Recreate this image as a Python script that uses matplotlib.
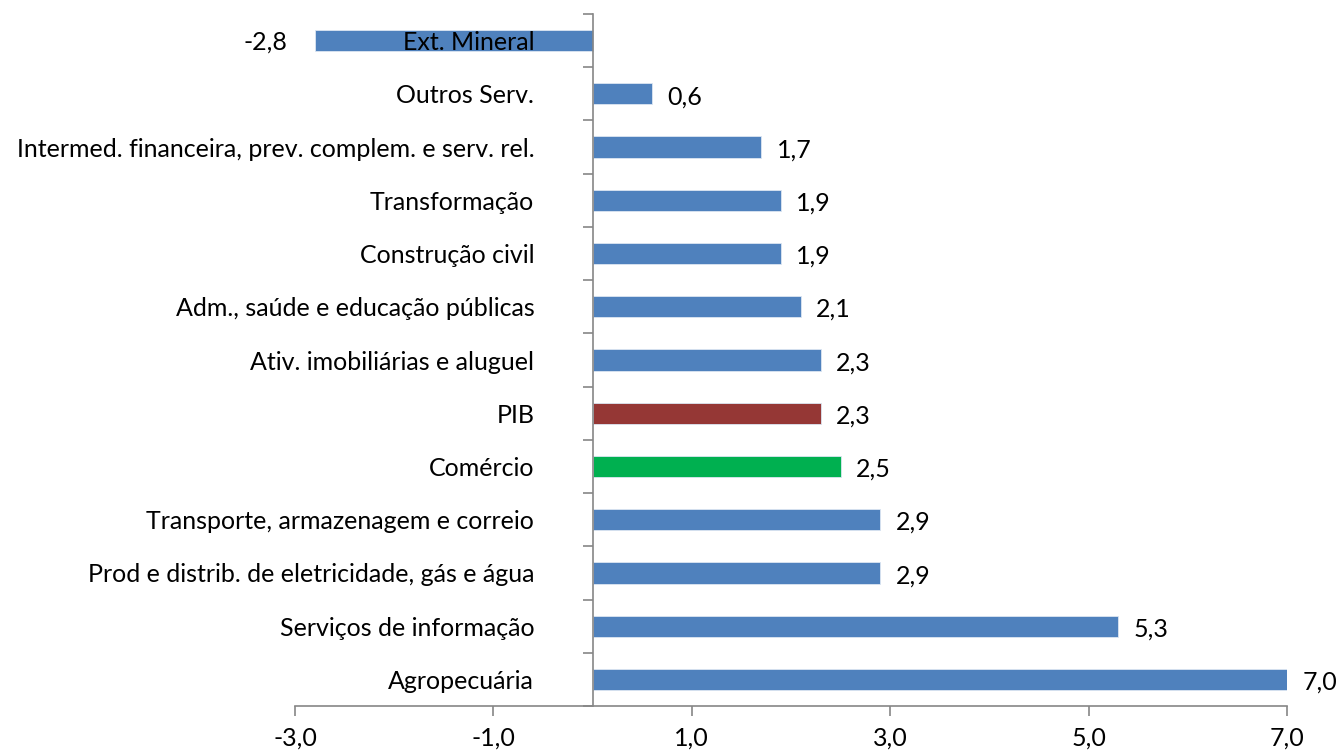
import matplotlib.pyplot as plt
import numpy as np

plt.rcParams['font.family'] = ['Lato', 'DejaVu Sans']

categorias = ['Ext. Mineral', 'Outros Serv.',
              'Intermed. financeira, prev. complem. e serv. rel.',
              'Transformação', 'Construção civil',
              'Adm., saúde e educação públicas',
              'Ativ. imobiliárias e aluguel', 'PIB', 'Comércio',
              'Transporte, armazenagem e correio',
              'Prod e distrib. de eletricidade, gás e água',
              'Serviços de informação', 'Agropecuária']
valores = [-2.8, 0.6, 1.7, 1.9, 1.9, 2.1, 2.3, 2.3, 2.5, 2.9, 2.9, 5.3, 7.0]
cores = ['#4F81BD'] * len(categorias)
cores[categorias.index('PIB')] = '#953735'
cores[categorias.index('Comércio')] = '#00B050'

fig = plt.figure(figsize=(13.39, 7.55), dpi=100)
ax = fig.add_axes([295 / 1339, 49 / 755, 992 / 1339, 692 / 755])

y = np.arange(len(categorias))
ax.barh(y, valores, height=0.4, color=cores, edgecolor='#DCE6F2', linewidth=0.6)

ax.set_xlim(-3, 7)
ax.set_ylim(len(categorias) - 0.5, -0.5)
ax.set_xticks(np.arange(-3, 8, 2))
ax.set_xticklabels([f'{v:.1f}'.replace('.', ',') for v in np.arange(-3, 8, 2)], fontsize=18)

# y axis sits at zero, labels on category centres, ticks on boundaries
ax.spines['left'].set_position(('data', 0))
ax.spines['right'].set_visible(False)
ax.spines['top'].set_visible(False)
for s in ('left', 'bottom'):
    ax.spines[s].set_color('#868686')
    ax.spines[s].set_linewidth(1.2)

ax.set_yticks(y)
ax.set_yticklabels(categorias, fontsize=18)
ax.set_yticks(np.arange(-0.5, len(categorias)), minor=True)
ax.tick_params(axis='y', which='major', length=0, pad=42)
ax.tick_params(axis='y', which='minor', length=7, width=1.2, color='#868686')
ax.tick_params(axis='x', length=7, width=1.2, color='#868686', pad=8)

for yi, v in zip(y, valores):
    txt = f'{v:.1f}'.replace('.', ',')
    if v < 0:
        ax.annotate(txt, (v, yi), xytext=(-20, -1), textcoords='offset points',
                    ha='right', va='center', fontsize=18)
    else:
        ax.annotate(txt, (v, yi), xytext=(11, -2), textcoords='offset points',
                    ha='left', va='center', fontsize=18)

fig.savefig('out.png', dpi=100)
